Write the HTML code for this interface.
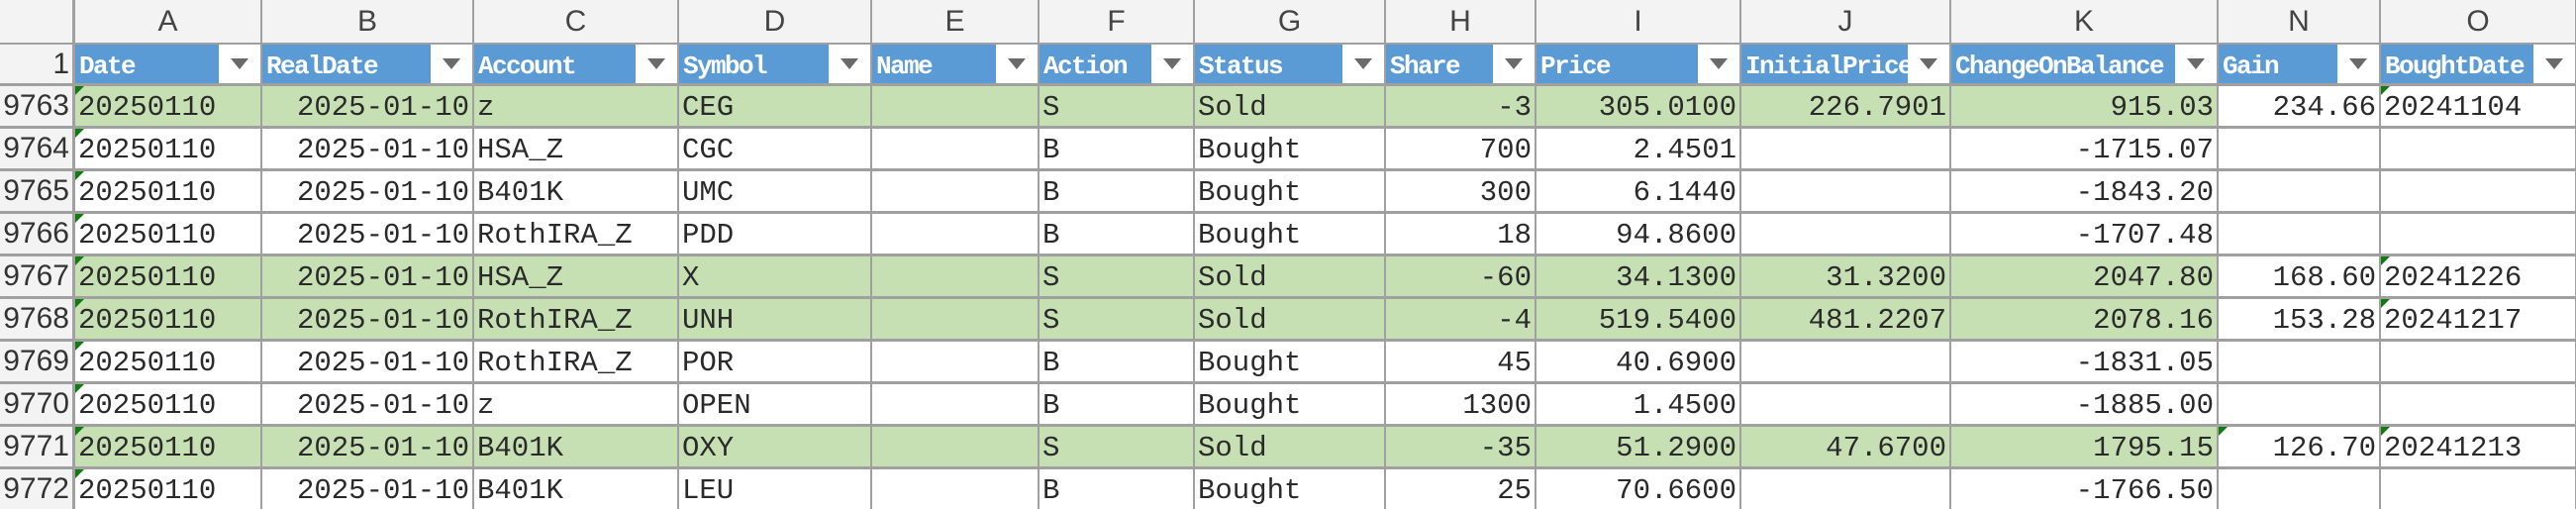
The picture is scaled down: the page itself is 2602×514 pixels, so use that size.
<!DOCTYPE html>
<html><head><meta charset="utf-8">
<style>
html,body{margin:0;padding:0;width:2602px;height:514px;overflow:hidden;background:#a0a0a0;}
#grid{position:relative;width:2602px;height:514px;}
.c{position:absolute;box-sizing:border-box;overflow:hidden;white-space:nowrap;}
.colh{background:#f3f3f3;color:#444;font:30px "Liberation Sans",sans-serif;text-align:center;line-height:44px;}
.rowh{background:#f3f3f3;color:#333;font:30px "Liberation Sans",sans-serif;text-align:right;padding-right:3px;}
.hd{background:#5b9bd5;color:#fff;font:bold 26px "Liberation Mono",monospace;padding-left:4px;letter-spacing:-1.6px;}
.fb{position:absolute;right:0;top:0;width:42px;height:100%;background:#fff;}
.fb:after{content:"";position:absolute;left:12px;top:14px;border-left:9px solid transparent;border-right:9px solid transparent;border-top:11px solid #6a6a6a;}
.d{background:#fff;color:#2a2a2a;font:29px "Liberation Mono",monospace;padding:0 3px;}
.g{background:#c6e0b4;}
.r{text-align:right;}
.tri{position:absolute;left:0;top:0;border-top:9px solid #107c10;border-right:9px solid transparent;}
</style></head>
<body>
<div id="grid"></div>
<script>
const colLetters=["A","B","C","D","E","F","G","H","I","J","K","N","O"];
const headers=["Date","RealDate","Account","Symbol","Name","Action","Status","Share","Price","InitialPrice","ChangeOnBalance","Gain","BoughtDate"];
const rowNums=["9763","9764","9765","9766","9767","9768","9769","9770","9771","9772"];
const rows=[
["20250110","2025-01-10","z","CEG","","S","Sold","-3","305.0100","226.7901","915.03","234.66","20241104"],
["20250110","2025-01-10","HSA_Z","CGC","","B","Bought","700","2.4501","","-1715.07","",""],
["20250110","2025-01-10","B401K","UMC","","B","Bought","300","6.1440","","-1843.20","",""],
["20250110","2025-01-10","RothIRA_Z","PDD","","B","Bought","18","94.8600","","-1707.48","",""],
["20250110","2025-01-10","HSA_Z","X","","S","Sold","-60","34.1300","31.3200","2047.80","168.60","20241226"],
["20250110","2025-01-10","RothIRA_Z","UNH","","S","Sold","-4","519.5400","481.2207","2078.16","153.28","20241217"],
["20250110","2025-01-10","RothIRA_Z","POR","","B","Bought","45","40.6900","","-1831.05","",""],
["20250110","2025-01-10","z","OPEN","","B","Bought","1300","1.4500","","-1885.00","",""],
["20250110","2025-01-10","B401K","OXY","","S","Sold","-35","51.2900","47.6700","1795.15","126.70","20241213"],
["20250110","2025-01-10","B401K","LEU","","B","Bought","25","70.6600","","-1766.50","",""]
];
const xs=[0,75,264,478,685,880,1049,1206,1399,1551,1758,1970,2240,2404,2602];
const rightCols=[1,7,8,9,10,11];
const grid=document.getElementById('grid');
function cell(x,y,w,h,cls,txt){
  const e=document.createElement('div');
  e.className='c '+cls;
  e.style.left=x+'px';e.style.top=y+'px';e.style.width=w+'px';e.style.height=h+'px';
  if(txt!==undefined)e.textContent=txt;
  grid.appendChild(e);return e;
}
let corner=cell(0,0,73,43,'colh','');


for(let i=0;i<colLetters.length;i++){
  const e=cell(xs[i+1]+1,0,xs[i+2]-xs[i+1]-2,43,'colh',colLetters[i]);
  
  
}
let r1=cell(0,45,73,39,'rowh','1');r1.style.lineHeight='39px';


for(let i=0;i<headers.length;i++){
  const e=cell(xs[i+1]+1,45,xs[i+2]-xs[i+1]-2,39,'hd',headers[i]);
  e.style.lineHeight='44px';
  
  
  const b=document.createElement('div');b.className='fb';
  
  
  e.appendChild(b);
}
const y0=87,rh=43;
for(let r=0;r<rows.length;r++){
  const y=y0+r*rh;
  const sold=rows[r][6]==="Sold";
  const rn=cell(0,y,73,rh-3,'rowh',rowNums[r]);rn.style.lineHeight=(rh-3)+'px';
  
  
  for(let i=0;i<headers.length;i++){
    let cls='d';
    if(sold && i<11)cls+=' g';
    if(rightCols.indexOf(i)>=0)cls+=' r';
    const e=cell(xs[i+1]+1,y,xs[i+2]-xs[i+1]-2,rh-3,cls,rows[r][i]);
    e.style.lineHeight=(rh+1)+'px';
    
    
    if(i===0||(i===12&&rows[r][i])||(i===11&&r===8)){
      const t=document.createElement('div');t.className='tri';
      
      
      e.appendChild(t);
    }
  }
}
</script>
</body></html>
